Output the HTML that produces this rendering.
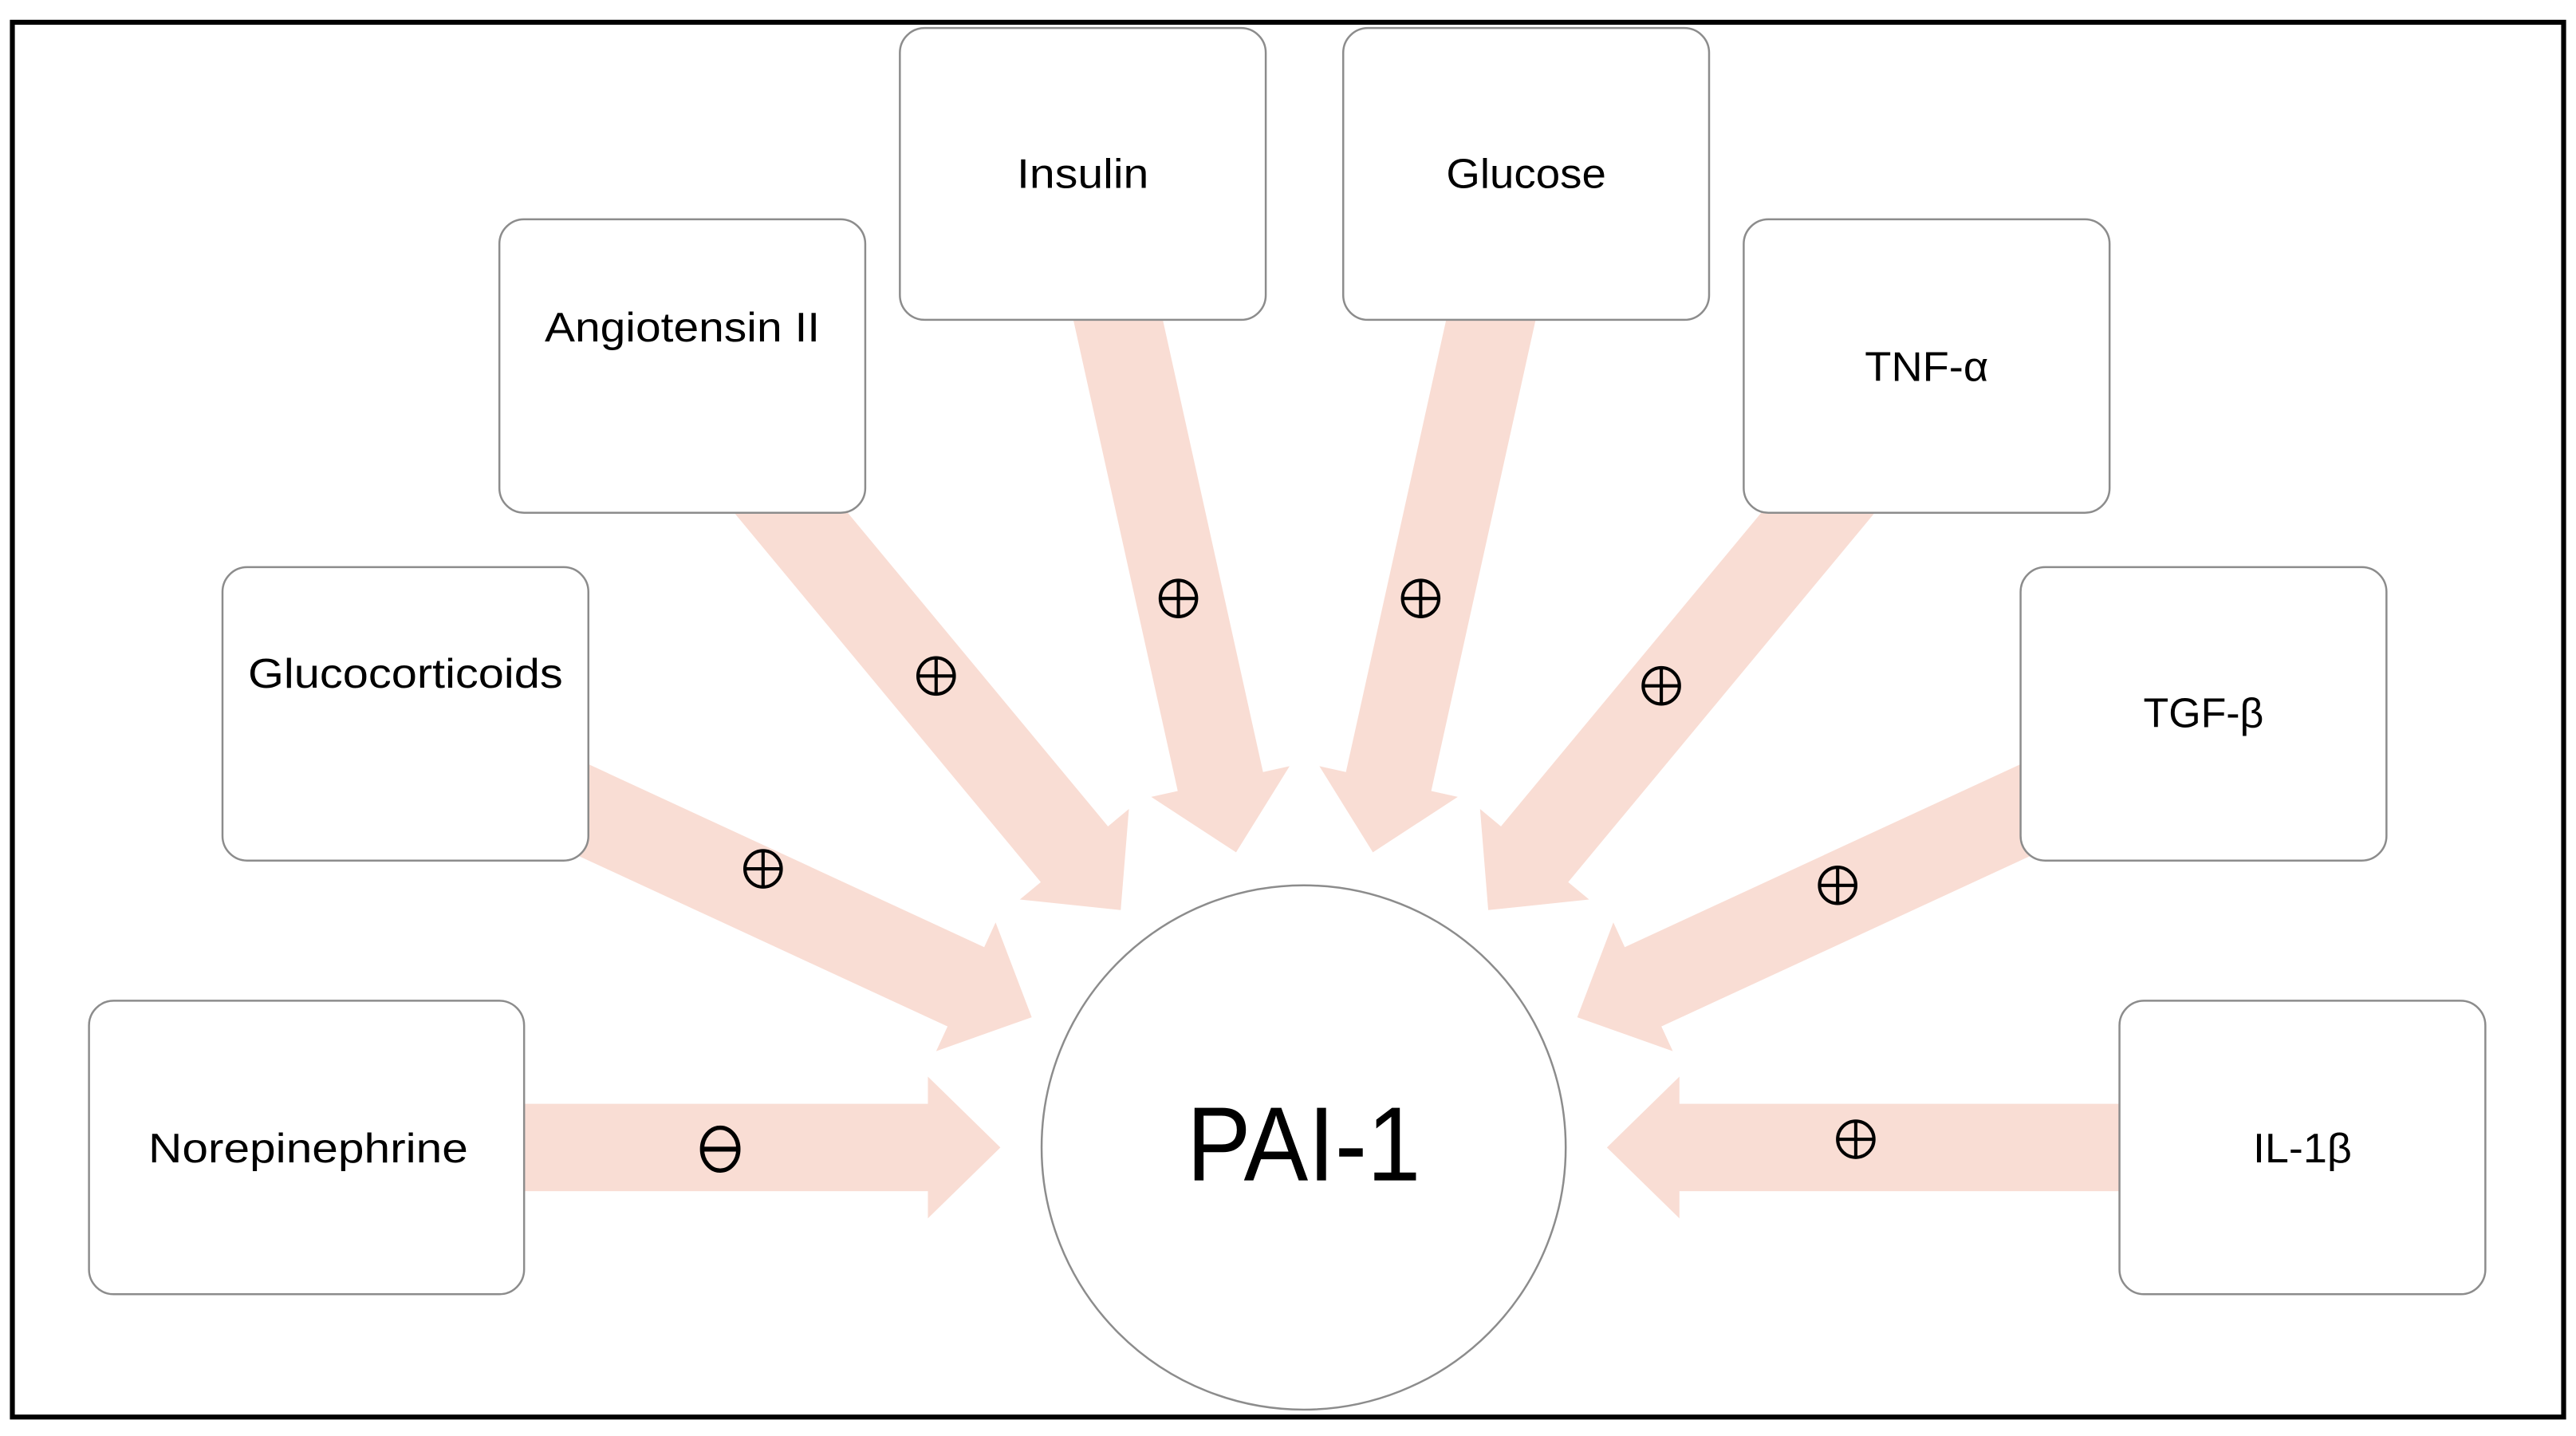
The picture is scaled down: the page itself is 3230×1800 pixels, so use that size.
<!DOCTYPE html>
<html><head><meta charset="utf-8"><style>
html,body{margin:0;padding:0;background:#fff;}
svg{display:block;}
text{font-family:"Liberation Sans",sans-serif;fill:#000;}
</style></head><body>
<svg width="3230" height="1800" viewBox="0 0 1563 871" preserveAspectRatio="none" xmlns="http://www.w3.org/2000/svg">
<defs>
<polygon id="arr" points="-340,-26.5 -44,-26.5 -44,-43 0,0 -44,43 -44,26.5 -340,26.5" fill="#f9ddd4"/>
</defs>
<rect x="0" y="0" width="1563" height="871" fill="#fff"/>
<!-- arrows -->
<use href="#arr" transform="translate(607,696)"/>
<use href="#arr" transform="translate(975,696) rotate(180)"/>
<use href="#arr" transform="translate(626,617) rotate(24.8)"/>
<use href="#arr" transform="translate(957,617) rotate(155.2)"/>
<use href="#arr" transform="translate(680,552) rotate(50.3)"/>
<use href="#arr" transform="translate(903,552) rotate(129.7)"/>
<use href="#arr" transform="translate(750,517) rotate(77.5)"/>
<use href="#arr" transform="translate(833,517) rotate(102.5)"/>
<!-- boxes -->
<g fill="#fff" stroke="#8c8c8c" stroke-width="1.2">
<rect x="54" y="607" width="264" height="178" rx="15"/>
<rect x="135" y="344" width="222" height="178" rx="15"/>
<rect x="303" y="133" width="222" height="178" rx="15"/>
<rect x="546" y="17" width="222" height="177" rx="15"/>
<rect x="815" y="17" width="222" height="177" rx="15"/>
<rect x="1058" y="133" width="222" height="178" rx="15"/>
<rect x="1226" y="344" width="222" height="178" rx="15"/>
<rect x="1286" y="607" width="222" height="178" rx="15"/>
<circle cx="791" cy="696" r="159"/>
</g>
<g font-size="25" text-anchor="middle">
<text x="187" y="705" textLength="194" lengthAdjust="spacingAndGlyphs">Norepinephrine</text>
<text x="246" y="417" textLength="191" lengthAdjust="spacingAndGlyphs">Glucocorticoids</text>
<text x="414" y="207" textLength="167" lengthAdjust="spacingAndGlyphs">Angiotensin II</text>
<text x="657" y="114" textLength="80" lengthAdjust="spacingAndGlyphs">Insulin</text>
<text x="926" y="114" textLength="97" lengthAdjust="spacingAndGlyphs">Glucose</text>
<text x="1169" y="231" textLength="75" lengthAdjust="spacingAndGlyphs">TNF-α</text>
<text x="1337" y="441" textLength="73" lengthAdjust="spacingAndGlyphs">TGF-β</text>
<text x="1397" y="705" textLength="60" lengthAdjust="spacingAndGlyphs">IL-1β</text>
</g>
<text x="791" y="716" font-size="64" text-anchor="middle" textLength="142" lengthAdjust="spacingAndGlyphs">PAI-1</text>
<!-- signs -->
<g fill="none" stroke="#000" stroke-width="2">
<g transform="translate(568,410)"><circle r="11"/><path d="M-11,0H11M0,-11V11"/></g>
<g transform="translate(715,363)"><circle r="11"/><path d="M-11,0H11M0,-11V11"/></g>
<g transform="translate(862,363)"><circle r="11"/><path d="M-11,0H11M0,-11V11"/></g>
<g transform="translate(1008,416)"><circle r="11"/><path d="M-11,0H11M0,-11V11"/></g>
<g transform="translate(463,527)"><circle r="11"/><path d="M-11,0H11M0,-11V11"/></g>
<g transform="translate(1115,537)"><circle r="11"/><path d="M-11,0H11M0,-11V11"/></g>
<g transform="translate(1126,691)"><circle r="11"/><path d="M-11,0H11M0,-11V11"/></g>
<g transform="translate(437,697)"><ellipse rx="11" ry="13" stroke-width="2.6"/><path d="M-11,0H11" stroke-width="3"/></g>
</g>
<!-- frame -->
<rect x="7.5" y="13.5" width="1548" height="846" fill="none" stroke="#000" stroke-width="3"/>
</svg>
</body></html>
